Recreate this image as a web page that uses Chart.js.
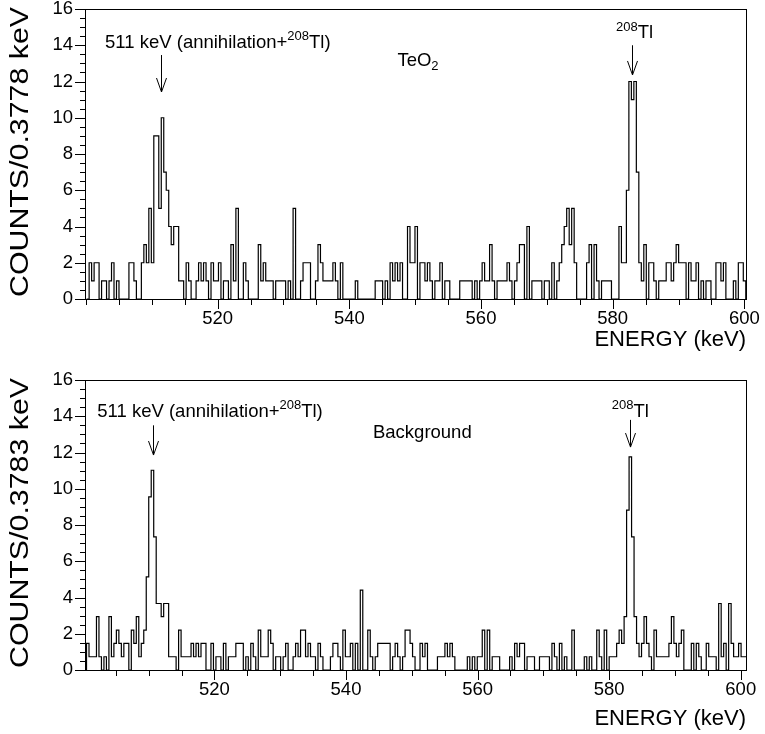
<!DOCTYPE html>
<html>
<head>
<meta charset="utf-8">
<script src="https://cdn.jsdelivr.net/npm/chart.js@4.4.1/dist/chart.umd.min.js"></script>
<style>
  html, body { margin: 0; padding: 0; background: #fff; overflow: hidden; }
  #wrap { position: relative; width: 765px; height: 734px; overflow: hidden; }
  .panel { position: absolute; left: 0; width: 765px; height: 367px; }
</style>
</head>
<body>
<div id="wrap">
  <div class="panel" style="top:0"><canvas id="teo2-chart"></canvas></div>
  <div class="panel" style="top:371px"><canvas id="bkg-chart"></canvas></div>
</div>
<script>
// TeO2 spectrum: counts per 0.3778 keV bin, first bin starting at TEO2_LOW
const TEO2_LOW = 500.1;
const TEO2_BIN = 0.3778;
const TEO2_COUNTS = [
  0, 2, 1, 2, 2, 0, 1, 1, 0, 1,
  2, 0, 1, 0, 0, 0, 0, 2, 2, 1,
  0, 0, 2, 3, 2, 5, 2, 9, 9, 5,
  10, 7, 6, 4, 3, 4, 4, 1, 1, 0,
  2, 1, 0, 0, 1, 2, 1, 2, 1, 0,
  2, 1, 1, 2, 0, 1, 1, 0, 3, 1,
  5, 0, 0, 2, 1, 0, 0, 0, 0, 3,
  1, 2, 1, 1, 1, 0, 1, 1, 1, 1,
  0, 1, 0, 5, 0, 0, 1, 2, 2, 2,
  0, 0, 1, 3, 2, 1, 1, 1, 1, 2,
  1, 0, 2, 0, 0, 0, 0, 0, 1, 0,
  0, 0, 0, 0, 0, 0, 1, 1, 1, 0,
  1, 0, 2, 1, 2, 1, 2, 0, 0, 4,
  2, 2, 4, 0, 2, 2, 1, 2, 1, 0,
  1, 1, 2, 0, 1, 1, 0, 0, 0, 0,
  1, 1, 1, 1, 1, 0, 1, 0, 1, 2,
  1, 1, 3, 1, 0, 1, 1, 1, 1, 2,
  1, 0, 1, 2, 3, 3, 0, 4, 0, 1,
  1, 1, 1, 0, 1, 1, 0, 2, 0, 1,
  2, 3, 4, 5, 3, 5, 2, 0, 0, 0,
  0, 2, 3, 0, 3, 1, 0, 1, 1, 1,
  1, 0, 0, 0, 4, 2, 2, 6, 12, 11,
  12, 7, 2, 1, 3, 0, 2, 2, 1, 0,
  1, 1, 1, 2, 2, 1, 2, 3, 2, 2,
  2, 0, 2, 1, 1, 2, 0, 1, 0, 1,
  1, 0, 0, 2, 2, 1, 2, 0, 0, 0,
  1, 0, 2, 2, 1
];

// Background spectrum (normalised): value per 0.3783 keV bin
const BKG_LOW = 500.56;
const BKG_BIN = 0.3783;
const BKG_VALUES = [
  1.47, 0.73, 0.73, 0.73, 2.94, 0.73, 0, 0.73, 0, 2.94,
  0.73, 1.47, 2.2, 1.47, 0.73, 1.47, 1.47, 0, 2.2, 1.47,
  2.94, 0.73, 1.47, 2.2, 5.14, 9.55, 11.02, 7.35, 3.67, 3.67,
  2.94, 3.67, 3.67, 0.73, 0.73, 0.73, 0, 2.2, 0.73, 0.73,
  0.73, 0.73, 1.47, 0.73, 1.47, 0.73, 1.47, 1.47, 0, 0,
  1.47, 0, 0.73, 0.73, 0, 1.47, 0, 0.73, 0.73, 0.73,
  1.47, 1.47, 1.47, 0, 0.73, 0, 1.47, 0.73, 0, 2.2,
  0.73, 0.73, 0.73, 2.2, 1.47, 0, 0.73, 0.73, 0, 0.73,
  1.47, 0, 0, 0.73, 1.47, 0.73, 2.2, 2.2, 0.73, 1.47,
  0.73, 0.73, 0, 1.47, 0.73, 0, 0, 0, 0.73, 1.47,
  1.47, 0.73, 0, 2.2, 0.73, 0.73, 1.47, 0, 1.47, 0,
  4.41, 0, 0, 2.2, 0.73, 0, 0.73, 1.47, 1.47, 1.47,
  1.47, 1.47, 0, 0.73, 1.47, 0.73, 0, 0.73, 2.2, 2.2,
  1.47, 0.73, 0, 0, 1.47, 0.73, 1.47, 0, 0, 0,
  0, 0.73, 0.73, 0.73, 1.47, 0.73, 1.47, 0.73, 0, 0,
  0, 0, 0, 0.73, 0, 0.73, 0, 0.73, 0.73, 2.2,
  0, 2.2, 0, 0.73, 0.73, 0.73, 0, 0, 0, 0,
  0.73, 0, 1.47, 0.73, 1.47, 1.47, 0, 0.73, 0.73, 0.73,
  0, 0, 0.73, 0.73, 0.73, 0.73, 0, 1.47, 0.73, 0,
  1.47, 0, 0.73, 0, 0, 2.2, 0, 0, 0, 0,
  0.73, 0, 0.73, 0, 0, 2.2, 0.73, 0, 2.2, 0,
  0.73, 0.73, 0.73, 1.47, 2.2, 1.47, 2.94, 8.82, 11.76, 7.35,
  2.94, 1.47, 0.73, 1.47, 2.94, 1.47, 0.73, 0, 2.2, 0.73,
  0.73, 0.73, 0.73, 0.73, 1.47, 2.94, 1.47, 0.73, 1.47, 2.2,
  0, 0, 0, 1.47, 0, 1.47, 0.73, 0, 0, 1.47,
  0.73, 0.73, 0.73, 0, 3.67, 0.73, 1.47, 0, 3.67, 1.47,
  0.73, 0.73, 1.47, 0.73, 0.73
];

const X_LABEL_TICKS = [520, 540, 560, 580, 600];
const X_MINOR_STEP = 5;
const Y_LABEL_TICKS = [0, 2, 4, 6, 8, 10, 12, 14, 16];
const Y_MINOR_STEP = 0.5;

const FONT = "'Liberation Sans', Arial, Helvetica, sans-serif";
const PANEL_H = 367;
const FRAME_TOP = 9;
const FRAME_BOTTOM = 299;
const Y_TITLE_LEN = 290;   // the vertical title is drawn wide in the original

// builds the outline of a ROOT-style histogram as stepped points
function histPoints(low, width, values) {
    const pts = [{ x: low, y: 0 }];
    values.forEach((v, i) => pts.push({ x: low + i * width, y: v }));
    const end = low + values.length * width;
    pts.push({ x: end, y: values[values.length - 1] });
    pts.push({ x: end, y: 0 });
    return pts;
}

// frame box plus outward major/minor ticks
const frameTicks = {
    id: 'frameTicks',
    afterDraw(chart) {
        const { ctx, chartArea: a, scales: { x, y } } = chart;
        ctx.save();
        ctx.strokeStyle = '#000';
        ctx.lineWidth = 1;
        ctx.strokeRect(Math.round(a.left) + 0.5, Math.round(a.top) + 0.5,
            Math.round(a.right - a.left), Math.round(a.bottom - a.top));
        ctx.beginPath();
        for (let v = Math.ceil(x.min / X_MINOR_STEP) * X_MINOR_STEP; v <= x.max; v += X_MINOR_STEP) {
            const px = Math.round(x.getPixelForValue(v)) + 0.5;
            const len = X_LABEL_TICKS.includes(v) ? 10 : 6;
            ctx.moveTo(px, a.bottom);
            ctx.lineTo(px, a.bottom + len);
        }
        for (let v = 0; v <= y.max; v += Y_MINOR_STEP) {
            const py = Math.round(y.getPixelForValue(v)) + 0.5;
            const len = Y_LABEL_TICKS.includes(v) ? 10 : 5;
            ctx.moveTo(a.left, py);
            ctx.lineTo(a.left - len, py);
        }
        ctx.stroke();
        ctx.restore();
    }
};

// vertical axis title, end-aligned with the top of the frame
const yTitle = {
    id: 'yTitle',
    afterDraw(chart, args, opts) {
        const { ctx, chartArea: a } = chart;
        ctx.save();
        ctx.fillStyle = '#000';
        ctx.font = `25px ${FONT}`;
        ctx.textAlign = 'right';
        ctx.textBaseline = 'middle';
        const w = ctx.measureText(opts.text).width;
        ctx.translate(21, a.top - 2);
        ctx.rotate(-Math.PI / 2);
        ctx.scale(Y_TITLE_LEN / w, 1);
        ctx.fillText(opts.text, 0, 0);
        ctx.restore();
    }
};

// labels with super/subscripts and the down arrows, placed in data units
const notes = {
    id: 'notes',
    afterDraw(chart, args, opts) {
        const { ctx, scales: { x, y } } = chart;
        ctx.save();
        ctx.fillStyle = '#000';
        ctx.strokeStyle = '#000';
        ctx.textBaseline = 'alphabetic';
        (opts.texts || []).forEach(t => {
            let px = x.getPixelForValue(t.x);
            const py = y.getPixelForValue(t.y);
            t.parts.forEach(p => {
                const small = p.sup || p.sub;
                ctx.font = `${small ? 13 : 18.5}px ${FONT}`;
                const dy = p.sup ? -7.5 : (p.sub ? 4 : 0);
                ctx.fillText(p.s, px, py + dy);
                px += ctx.measureText(p.s).width;
            });
        });
        ctx.lineWidth = 1;
        (opts.arrows || []).forEach(ar => {
            const px = Math.round(x.getPixelForValue(ar.x)) + 0.5;
            const y0 = y.getPixelForValue(ar.from);
            const y1 = y.getPixelForValue(ar.to);
            ctx.beginPath();
            ctx.moveTo(px, y0);
            ctx.lineTo(px, y1);
            ctx.moveTo(px - 5, y1 - 14);
            ctx.lineTo(px, y1);
            ctx.lineTo(px + 5, y1 - 14);
            ctx.stroke();
        });
        ctx.restore();
    }
};

function makeSpectrum(canvasId, points, titleText, xMin, xMax, xTitlePad, noteOpts) {
    const ctx = document.getElementById(canvasId).getContext('2d');
    return new Chart(ctx, {
        type: 'line',
        data: {
            datasets: [{
                data: points,
                stepped: 'before',
                borderColor: '#000',
                borderWidth: 1.2,
                pointRadius: 0,
                fill: false
            }]
        },
        options: {
            responsive: true,
            maintainAspectRatio: false,
            animation: false,
            events: [],
            layout: { padding: { left: 0, right: 19, top: FRAME_TOP, bottom: 0 } },
            plugins: {
                legend: { display: false },
                tooltip: { enabled: false },
                notes: noteOpts,
                yTitle: { text: titleText }
            },
            scales: {
                x: {
                    type: 'linear',
                    min: xMin, max: xMax,
                    afterBuildTicks: s => { s.ticks = X_LABEL_TICKS.map(v => ({ value: v })); },
                    afterFit: s => {
                        s.height = PANEL_H - FRAME_BOTTOM;
                        s.paddingLeft = 0;
                        s.paddingRight = 0;
                    },
                    grid: { display: false, drawTicks: false },
                    border: { display: false },
                    ticks: { color: '#000', font: { family: FONT, size: 18.5 }, padding: 9, maxRotation: 0 },
                    title: {
                        display: true, text: 'ENERGY (keV)', align: 'end', color: '#000',
                        font: { family: FONT, size: 22 }, padding: { top: 0, bottom: xTitlePad }
                    }
                },
                y: {
                    min: 0, max: 16,
                    afterBuildTicks: s => { s.ticks = Y_LABEL_TICKS.map(v => ({ value: v })); },
                    afterFit: s => {
                        s.width = 85;
                        s.paddingTop = 0;
                        s.paddingBottom = 0;
                    },
                    grid: { display: false, drawTicks: false },
                    border: { display: false },
                    ticks: { color: '#000', font: { family: FONT, size: 18.5 }, padding: 12 },
                    title: { display: false }
                }
            }
        },
        plugins: [frameTicks, yTitle, notes]
    });
}

makeSpectrum('teo2-chart', histPoints(TEO2_LOW, TEO2_BIN, TEO2_COUNTS),
    'COUNTS/0.3778 keV', 499.85, 600.25, 14, {
        texts: [
            { x: 502.9, y: 13.85, parts: [{ s: '511 keV (annihilation+' }, { s: '208', sup: true }, { s: 'Tl)' }] },
            { x: 547.3, y: 12.86, parts: [{ s: 'TeO' }, { s: '2', sub: true }] },
            { x: 580.5, y: 14.4, parts: [{ s: '208', sup: true }, { s: 'Tl' }] }
        ],
        arrows: [
            { x: 511.4, from: 13.46, to: 11.42 },
            { x: 582.9, from: 14.0, to: 12.36 }
        ]
    });

makeSpectrum('bkg-chart', histPoints(BKG_LOW, BKG_BIN, BKG_VALUES),
    'COUNTS/0.3783 keV', 500.33, 600.8, 6, {
        texts: [
            { x: 502.2, y: 13.96, parts: [{ s: '511 keV (annihilation+' }, { s: '208', sup: true }, { s: 'Tl)' }] },
            { x: 544.1, y: 12.8, parts: [{ s: 'Background' }] },
            { x: 580.4, y: 13.96, parts: [{ s: '208', sup: true }, { s: 'Tl' }] }
        ],
        arrows: [
            { x: 510.6, from: 13.5, to: 11.86 },
            { x: 583.2, from: 13.8, to: 12.3 }
        ]
    });
</script>
</body>
</html>
